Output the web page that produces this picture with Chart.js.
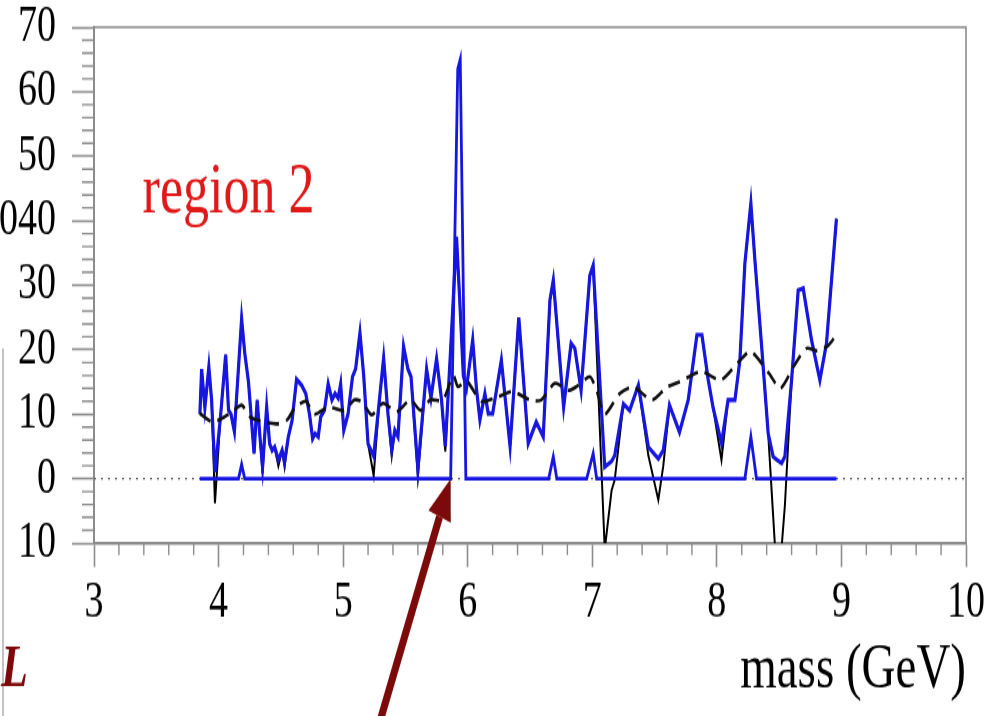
<!DOCTYPE html>
<html>
<head>
<meta charset="utf-8">
<script src="https://cdn.jsdelivr.net/npm/chart.js@4"></script>
<style>
  html, body { margin: 0; padding: 0; background: #fff; overflow: hidden; }
</style>
</head>
<body>
<!-- the source figure is stretched vertically, so the canvas is drawn short and scaled up by css -->
<canvas id="chart" width="993" height="526" style="width:993px;height:716px;display:block"></canvas>
<script>
// measured data (blue) and the same data before clipping (black)
var dataMass = [3.850, 3.864, 3.890, 3.922, 3.944, 3.971, 4.015, 4.057, 4.080, 4.100,
  4.127, 4.185, 4.210, 4.240, 4.285, 4.310, 4.330, 4.353, 4.386, 4.410,
  4.430, 4.450, 4.480, 4.510, 4.530, 4.560, 4.590, 4.626, 4.666, 4.700,
  4.730, 4.755, 4.775, 4.800, 4.820, 4.850, 4.880, 4.910, 4.935, 4.960,
  4.980, 5.005, 5.040, 5.075, 5.100, 5.135, 5.165, 5.200, 5.245, 5.290,
  5.325, 5.360, 5.390, 5.415, 5.440, 5.485, 5.520, 5.545, 5.600, 5.670,
  5.705, 5.750, 5.790, 5.820, 5.860, 5.910, 5.935, 5.965, 5.990, 6.040,
  6.070, 6.098, 6.138, 6.165, 6.200, 6.270, 6.340, 6.410, 6.486, 6.550,
  6.606, 6.660, 6.687, 6.770, 6.830, 6.860, 6.910, 6.980, 7.007, 7.100,
  7.155, 7.180, 7.250, 7.300, 7.370, 7.450, 7.530, 7.570, 7.620, 7.700,
  7.770, 7.840, 7.880, 7.930, 7.970, 8.037, 8.090, 8.145, 8.185, 8.225,
  8.273, 8.305, 8.360, 8.412, 8.452, 8.490, 8.520, 8.546, 8.600, 8.653,
  8.693, 8.760, 8.827, 8.880, 8.960];
var dataVals = [10.0, 17.0, 11.0, 17.3, 12.2, 1.0, 9.5, 19.2, 10.6, 10.0,
  7.3, 24.8, 19.5, 15.0, 3.9, 12.2, 7.0, 1.8, 11.1, 5.4,
  4.4, 4.9, 2.9, 4.4, 2.6, 6.5, 9.0, 15.4, 14.5, 13.2,
  10.0, 6.2, 7.0, 6.5, 9.6, 10.6, 14.7, 12.2, 13.2, 12.5,
  14.7, 7.5, 10.1, 15.8, 17.0, 22.6, 16.0, 5.4, 3.5, 12.0,
  18.7, 10.0, 4.5, 7.5, 6.5, 20.5, 17.0, 15.8, 1.5, 17.0,
  12.5, 18.6, 12.2, 5.0, 19.0, 37.5, 28.0, 16.0, 14.0, 21.5,
  14.0, 9.1, 13.2, 10.1, 10.1, 18.4, 5.0, 25.0, 5.5, 8.8,
  6.5, 27.7, 30.8, 11.1, 21.0, 20.2, 13.7, 31.5, 33.1, 1.8,
  2.7, 3.6, 11.6, 10.6, 14.5, 4.9, 3.1, 4.4, 11.4, 7.2,
  12.2, 22.3, 22.3, 15.4, 11.0, 5.5, 12.2, 12.2, 18.4, 33.4,
  42.7, 34.0, 20.4, 7.0, 3.4, 2.8, 2.4, 3.4, 15.3, 29.2,
  29.5, 21.5, 15.3, 21.0, 40.3];
var rawVals = [10.0, 17.0, 11.0, 17.3, 12.2, -3.8, 9.5, 19.2, 10.6, 10.0,
  7.3, 24.8, 19.5, 15.0, 3.9, 12.2, 7.0, 0.8, 11.1, 5.4,
  4.4, 4.9, 2.0, 4.4, 1.8, 6.5, 9.0, 15.4, 14.5, 13.2,
  10.0, 6.2, 7.0, 6.5, 9.6, 10.6, 14.7, 12.2, 13.2, 12.5,
  14.7, 7.5, 10.1, 15.8, 17.0, 22.6, 16.0, 5.4, 0.5, 12.0,
  18.7, 10.0, 3.5, 7.5, 6.5, 20.5, 17.0, 15.8, 0.3, 17.0,
  12.5, 18.6, 12.2, 4.2, 19.0, 37.5, 28.0, 16.0, 14.0, 21.5,
  14.0, 9.1, 13.2, 10.1, 10.1, 18.4, 5.0, 25.0, 5.5, 8.8,
  6.5, 27.7, 30.8, 11.1, 21.0, 20.2, 13.7, 31.5, 33.1, -11.0,
  -1.8, -0.2, 11.6, 10.6, 14.5, 3.6, -3.3, 2.0, 11.4, 7.2,
  12.2, 22.3, 22.3, 15.4, 11.0, 2.9, 12.2, 12.2, 18.4, 33.4,
  42.7, 34.0, 20.4, 7.0, -5.8, -18.0, -10.6, -4.2, 15.3, 29.2,
  29.5, 21.5, 15.3, 21.0, 40.3];

// signal template (blue line sitting on zero)
var sigMass = [3.850, 4.160, 4.185, 4.210, 5.863, 5.920, 5.940, 5.985, 6.650, 6.687,
  6.715, 6.955, 7.007, 7.035, 8.225, 8.273, 8.318, 8.960];
var sigVals = [0, 0, 2.2, 0, 0, 63.5, 65.0, 0, 0, 3.4,
  0, 0, 3.9, 0, 0, 6.5, 0, 0];

// smooth background (dashed)
var bkgMass = [3.85, 3.955, 4.09, 4.185, 4.25, 4.36, 4.47, 4.55, 4.61, 4.70,
  4.77, 4.88, 5.01, 5.09, 5.15, 5.23, 5.32, 5.43, 5.54, 5.62,
  5.70, 5.80, 5.884, 5.92, 5.964, 6.00, 6.11, 6.245, 6.36, 6.50,
  6.59, 6.70, 6.81, 6.875, 6.98, 7.034, 7.10, 7.22, 7.33, 7.48,
  7.60, 7.70, 7.877, 8.03, 8.17, 8.27, 8.42, 8.51, 8.62, 8.72,
  8.81, 8.89, 8.95];
var bkgVals = [10.1, 8.8, 10.1, 11.4, 9.6, 8.8, 8.5, 9.1, 10.9, 12.0,
  10.0, 11.1, 10.6, 12.2, 11.9, 9.9, 11.7, 10.4, 12.2, 10.6,
  12.2, 12.2, 16.0, 14.3, 14.8, 15.0, 12.0, 12.7, 13.5, 12.2,
  12.2, 14.8, 13.7, 14.3, 15.8, 13.7, 10.0, 13.2, 14.2, 12.2,
  14.2, 15.0, 16.6, 15.3, 18.0, 19.7, 16.3, 14.0, 17.5, 20.2,
  19.8, 20.6, 22.0];

var zeroMass = [3, 10];
var zeroVals = [0, 0];

// y labels as they appear (the left edge of the figure is cut off)
var yTickText = ['10', '0', '10', '20', '30', '040', '50', '60', '70'];

var axisGray = '#8c8c8c';
var blue = '#1616e0';
var darkRed = '#7c0a0a';

function pts(xs, ys) {
  return xs.map(function (m, i) { return { x: m, y: ys[i] }; });
}

var decor = {
  id: 'decor',
  afterDraw: function (chart) {
    var ctx = chart.ctx, a = chart.chartArea;
    var x = chart.scales.x, y = chart.scales.y;
    ctx.save();
    ctx.strokeStyle = axisGray;

    // top and right frame
    ctx.lineWidth = 1.6;
    ctx.beginPath();
    ctx.moveTo(a.left, a.top);
    ctx.lineTo(a.right, a.top);
    ctx.lineTo(a.right, a.bottom);
    ctx.stroke();

    // minor ticks
    ctx.lineWidth = 1.4;
    ctx.beginPath();
    for (var v = -10; v <= 70; v += 2) {
      if (v % 10 === 0) continue;
      var py = y.getPixelForValue(v);
      ctx.moveTo(a.left - 12, py);
      ctx.lineTo(a.left, py);
    }
    for (var i = 0; i <= 35; i++) {
      if (i % 5 === 0) continue;
      var px = x.getPixelForValue(3 + i / 5);
      ctx.moveTo(px, a.bottom);
      ctx.lineTo(px, a.bottom + 8.8);
    }
    ctx.stroke();

    // thin frame of the neighbouring panel
    ctx.lineWidth = 1.2;
    ctx.strokeStyle = '#9a9a9a';
    ctx.beginPath();
    ctx.moveTo(3, y.getPixelForValue(20.2));
    ctx.lineTo(3, chart.height);
    ctx.stroke();

    // region label
    ctx.fillStyle = '#e01818';
    ctx.font = '52px "Liberation Serif"';
    ctx.textBaseline = 'alphabetic';
    ctx.textAlign = 'left';
    ctx.fillText('region 2', x.getPixelForValue(3.39), y.getPixelForValue(41.2));

    // leftover letter from the neighbouring panel
    ctx.fillStyle = darkRed;
    ctx.font = 'italic bold 44px "Liberation Serif"';
    ctx.fillText('L', 1, 504);

    // arrow pointing at the signal onset
    var x0 = x.getPixelForValue(5.29), y0 = y.getPixelForValue(-38);
    var x1 = x.getPixelForValue(5.863), y1 = y.getPixelForValue(0);
    var ang = Math.atan2(y1 - y0, x1 - x0);
    var headLen = 30, headW = 12;
    var bx = x1 - headLen * Math.cos(ang), by = y1 - headLen * Math.sin(ang);
    ctx.strokeStyle = darkRed;
    ctx.lineWidth = 7;
    ctx.beginPath();
    ctx.moveTo(x0, y0);
    ctx.lineTo(bx, by);
    ctx.stroke();
    ctx.beginPath();
    ctx.moveTo(x1, y1);
    ctx.lineTo(bx + headW * Math.sin(ang), by - headW * Math.cos(ang));
    ctx.lineTo(bx - headW * Math.sin(ang), by + headW * Math.cos(ang));
    ctx.closePath();
    ctx.fill();
    ctx.restore();
  }
};

var ctx = document.getElementById('chart');

var chart = new Chart(ctx, {
  type: 'line',
  data: {
    datasets: [{
      label: 'background',
      data: pts(bkgMass, bkgVals),
      borderColor: '#111',
      borderWidth: 2.6,
      borderDash: [12, 7],
      tension: 0.25
    }, {
      label: 'signal',
      data: pts(sigMass, sigVals),
      borderColor: blue,
      borderWidth: 2.8
    }, {
      label: 'data',
      data: pts(dataMass, dataVals),
      borderColor: blue,
      borderWidth: 3.2
    }, {
      label: 'raw',
      data: pts(dataMass, rawVals),
      borderColor: '#000',
      borderWidth: 2
    }, {
      label: 'zero',
      data: pts(zeroMass, zeroVals),
      borderColor: '#666',
      borderWidth: 1.2,
      borderDash: [2, 5]
    }]
  },
  options: {
    responsive: false,
    animation: false,
    events: [],
    layout: { padding: { left: 0, right: 27, top: 20, bottom: 0 } },
    elements: { point: { radius: 0 }, line: { tension: 0 } },
    plugins: { legend: { display: false }, tooltip: { enabled: false } },
    scales: {
      x: {
        type: 'linear',
        min: 3,
        max: 10,
        ticks: {
          stepSize: 1,
          autoSkip: false,
          maxRotation: 0,
          padding: 4,
          color: '#000',
          font: { family: 'Liberation Serif', size: 38 }
        },
        grid: { drawOnChartArea: false, tickLength: 17.6, tickColor: axisGray, tickWidth: 1.6 },
        border: { color: axisGray, width: 2.2 },
        title: {
          display: true,
          text: 'mass (GeV)',
          align: 'end',
          color: '#000',
          font: { family: 'Liberation Serif', size: 47 },
          padding: { top: 0, bottom: 5 }
        },
        afterFit: function (s) { s.height = 127; }
      },
      y: {
        min: -10,
        max: 70,
        ticks: {
          stepSize: 10,
          padding: 16,
          color: '#000',
          font: { family: 'Liberation Serif', size: 38, lineHeight: 1 },
          callback: function (v) { return yTickText[Math.round((v + 10) / 10)]; }
        },
        grid: { drawOnChartArea: false, tickLength: 22, tickColor: axisGray, tickWidth: 1.6 },
        border: { color: axisGray, width: 2 },
        afterFit: function (s) {
          s.width = 94;
          s.paddingTop = 0;
          s.paddingBottom = 0;
        }
      }
    }
  },
  plugins: [decor]
});
</script>
</body>
</html>
